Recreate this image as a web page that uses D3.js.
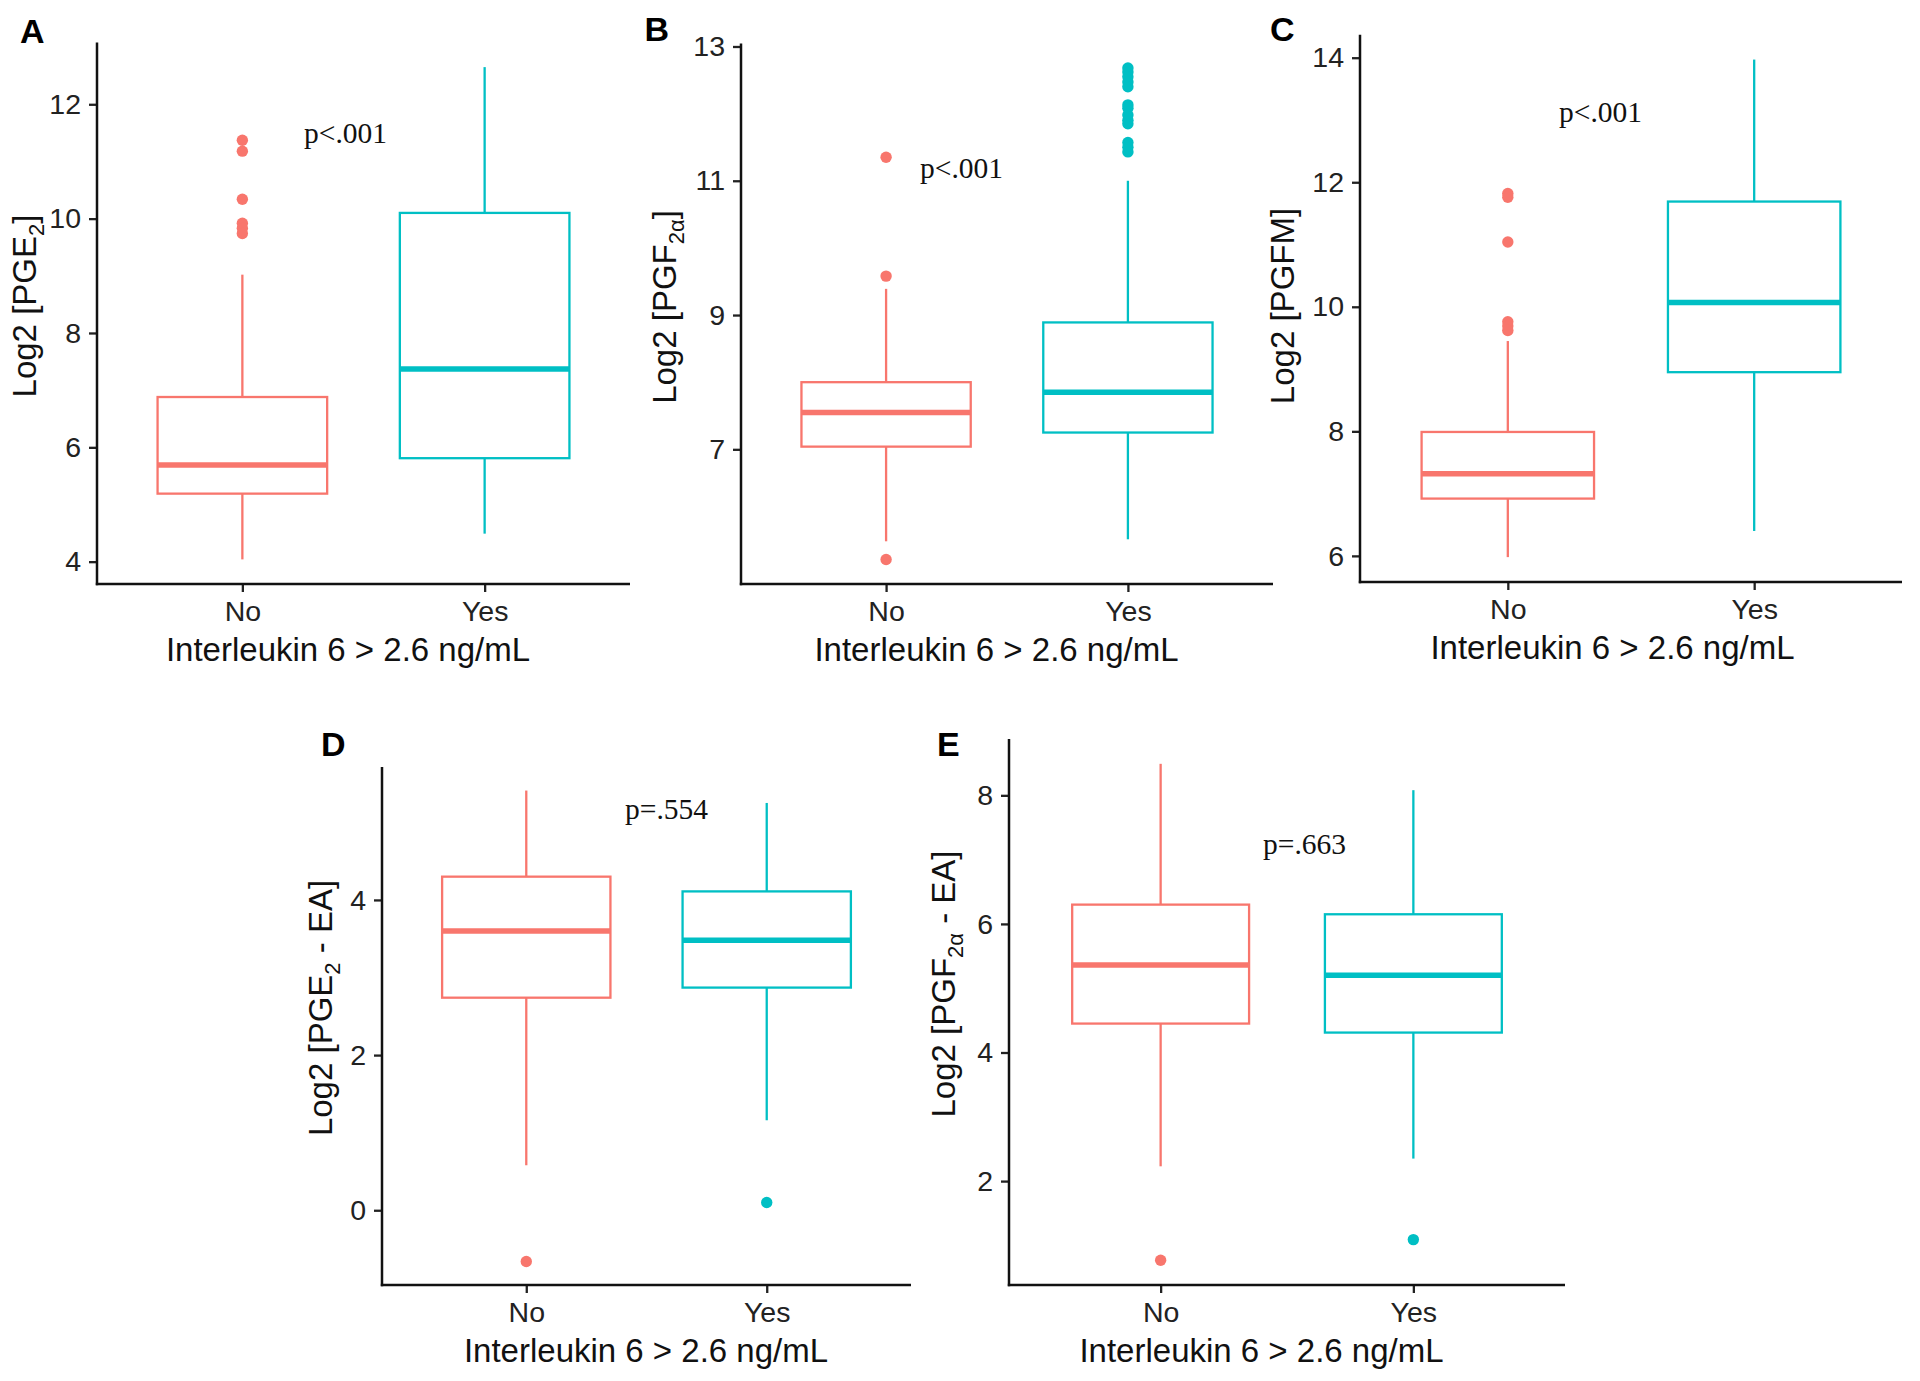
<!DOCTYPE html>
<html>
<head>
<meta charset="utf-8">
<script src="https://cdn.jsdelivr.net/npm/d3@7"></script>
<style>
  html, body { margin: 0; padding: 0; background: #ffffff; }
  svg { display: block; }
</style>
</head>
<body>
<svg id="chart" width="1920" height="1381"></svg>
<script>
// ---------------- DATA ----------------
const categories = ["No", "Yes"];
const panelIds = ["A", "B", "C", "D", "E"];
const xTitle = "Interleukin 6 > 2.6 ng/mL";
const pLabels = ["p<.001", "p<.001", "p<.001", "p=.554", "p=.663"];
// y titles: [before subscript, subscript, after subscript]
const yTitles = [
  ["Log2 [PGE", "2", "]"],
  ["Log2 [PGF", "2α", "]"],
  ["Log2 [PGFM]", "", ""],
  ["Log2 [PGE", "2", " - EA]"],
  ["Log2 [PGF", "2α", " - EA]"]
];

// tick values per panel
const ticksA = [4, 6, 8, 10, 12];
const ticksB = [7, 9, 11, 13];
const ticksC = [6, 8, 10, 12, 14];
const ticksD = [0, 2, 4];
const ticksE = [2, 4, 6, 8];

// box statistics per category: [lower whisker, Q1, median, Q3, upper whisker]
const boxA = [[4.04, 5.19, 5.69, 6.88, 9.02], [4.49, 5.81, 7.37, 10.10, 12.65]];
const boxB = [[5.63, 7.04, 7.55, 8.00, 9.39], [5.66, 7.25, 7.85, 8.89, 11.00]];
const boxC = [[5.98, 6.92, 7.32, 7.99, 9.45], [6.40, 8.95, 10.07, 11.69, 13.97]];
const boxD = [[0.58, 2.74, 3.60, 4.30, 5.41], [1.16, 2.87, 3.48, 4.11, 5.25]];
const boxE = [[2.23, 4.45, 5.36, 6.30, 8.49], [2.35, 4.31, 5.20, 6.15, 8.08]];

// outliers per category
const outA = [[11.37, 11.18, 10.34, 9.92, 9.83, 9.74], []];
const outB = [[11.35, 9.58, 5.36],
              [12.68, 12.62, 12.55, 12.47, 12.40, 12.13, 12.08, 11.98, 11.90, 11.85, 11.57, 11.50, 11.43]];
const outC = [[11.82, 11.76, 11.04, 9.76, 9.69, 9.62], []];
const outD = [[-0.66], [0.10]];
const outE = [[0.77], [1.09]];

// ---------------- LAYOUT ----------------
const layout = [
  {left: 97,   right: 630,  top: 42.5, bottom: 584,  letterX: 20,    letterY: 43,  yTitleX: 24,  yTitleY: 306,  xTitleX: 348,   pX: 304,  pY: 143},
  {left: 741,  right: 1273, top: 43.4, bottom: 584,  letterX: 644.5, letterY: 41,  yTitleX: 664, yTitleY: 307,  xTitleX: 996.5, pX: 920,  pY: 178},
  {left: 1360, right: 1902, top: 34.7, bottom: 582,  letterX: 1270,  letterY: 41,  yTitleX: 1282,yTitleY: 306,  xTitleX: 1612.5,pX: 1559, pY: 122},
  {left: 382,  right: 911,  top: 767,  bottom: 1285, letterX: 321,   letterY: 756, yTitleX: 320, yTitleY: 1008, xTitleX: 646,   pX: 625,  pY: 819},
  {left: 1009, right: 1565, top: 739,  bottom: 1285, letterX: 937,   letterY: 756, yTitleX: 943, yTitleY: 984,  xTitleX: 1261.5,pX: 1263, pY: 854}
];

const ticksAll = [ticksA, ticksB, ticksC, ticksD, ticksE];
const boxesAll = [boxA, boxB, boxC, boxD, boxE];
const outsAll = [outA, outB, outC, outD, outE];

const colors = ["#F8766D", "#00BFC4"];
const sansFont = "'Liberation Sans', Arial, Helvetica, sans-serif";
const serifFont = "'Liberation Serif', 'Times New Roman', serif";

const svg = d3.select("#chart");

panelIds.forEach((id, i) => {
  const L = layout[i];
  const boxes = boxesAll[i];
  const outs = outsAll[i];
  const g = svg.append("g");

  // y domain = data range expanded by 5% (ggplot default)
  const allVals = boxes.flat().concat(outs.flat());
  const mn = d3.min(allVals), mx = d3.max(allVals);
  const pad = (mx - mn) * 0.05;
  const y = d3.scaleLinear().domain([mn - pad, mx + pad]).range([L.bottom, L.top]);
  const x = d3.scalePoint().domain(categories).range([L.left, L.right]).padding(0.6);
  const boxW = x.step() * 0.7;

  categories.forEach((cat, ci) => {
    const s = boxes[ci];
    const cx = x(cat);
    const col = colors[ci];
    g.append("line").attr("x1", cx).attr("x2", cx).attr("y1", y(s[0])).attr("y2", y(s[1]))
      .attr("stroke", col).attr("stroke-width", 2.3);
    g.append("line").attr("x1", cx).attr("x2", cx).attr("y1", y(s[3])).attr("y2", y(s[4]))
      .attr("stroke", col).attr("stroke-width", 2.3);
    g.append("rect").attr("x", cx - boxW / 2).attr("width", boxW)
      .attr("y", y(s[3])).attr("height", y(s[1]) - y(s[3]))
      .attr("fill", "#ffffff").attr("stroke", col).attr("stroke-width", 2.3);
    g.append("line").attr("x1", cx - boxW / 2).attr("x2", cx + boxW / 2)
      .attr("y1", y(s[2])).attr("y2", y(s[2]))
      .attr("stroke", col).attr("stroke-width", 5.5);
    g.selectAll(null).data(outs[ci]).enter().append("circle")
      .attr("cx", cx).attr("cy", d => y(d)).attr("r", 5.7).attr("fill", col);
  });

  // axes
  const yAxis = d3.axisLeft(y).tickValues(ticksAll[i]).tickSize(8).tickPadding(8).tickFormat(d3.format("d"));
  const xAxis = d3.axisBottom(x).tickSize(8).tickPadding(9);
  const ya = g.append("g").attr("transform", `translate(${L.left},0)`).call(yAxis);
  const xa = g.append("g").attr("transform", `translate(0,${L.bottom})`).call(xAxis);
  [ya, xa].forEach(a => {
    a.select(".domain").remove();
    a.selectAll(".tick line").attr("stroke", "#222").attr("stroke-width", 2.3);
    a.selectAll(".tick text").attr("fill", "#222").style("font-family", sansFont).style("font-size", "28.5px");
  });
  g.append("line").attr("x1", L.left).attr("x2", L.left).attr("y1", L.top).attr("y2", L.bottom + 1.2)
    .attr("stroke", "#111").attr("stroke-width", 2.5);
  g.append("line").attr("x1", L.left - 1.2).attr("x2", L.right).attr("y1", L.bottom).attr("y2", L.bottom)
    .attr("stroke", "#111").attr("stroke-width", 2.5);

  // x title
  g.append("text").attr("x", L.xTitleX).attr("y", L.bottom + 77)
    .attr("text-anchor", "middle").attr("fill", "#111")
    .style("font-family", sansFont).style("font-size", "33px").text(xTitle);

  // y title with subscript
  const yt = yTitles[i];
  const t = g.append("text")
    .attr("transform", `translate(${L.yTitleX},${L.yTitleY}) rotate(-90)`)
    .attr("text-anchor", "middle").attr("dy", "0.35em").attr("fill", "#111")
    .style("font-family", sansFont).style("font-size", "33px");
  t.append("tspan").text(yt[0]);
  if (yt[1]) {
    t.append("tspan").attr("dy", 8).style("font-size", "22px").text(yt[1]);
    t.append("tspan").attr("dy", -8).text(yt[2]);
  }

  // panel letter
  g.append("text").attr("x", L.letterX).attr("y", L.letterY).attr("fill", "#000")
    .style("font-family", sansFont).style("font-size", "34px").style("font-weight", "bold").text(id);

  // p-value
  g.append("text").attr("x", L.pX).attr("y", L.pY).attr("fill", "#111")
    .style("font-family", serifFont).style("font-size", "29.5px").text(pLabels[i]);
});
</script>
</body>
</html>
